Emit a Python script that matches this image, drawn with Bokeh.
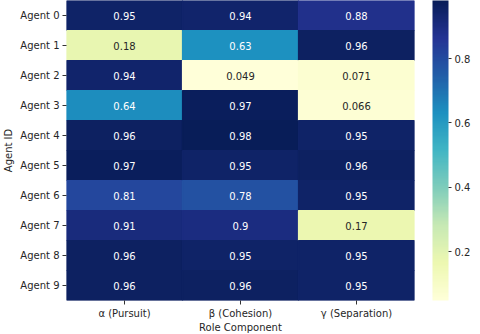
import numpy as np
from bokeh.plotting import figure
from bokeh.models import ColumnDataSource, LinearColorMapper, ColorBar, FixedTicker
from bokeh.transform import transform
from bokeh.embed import file_html
from bokeh.resources import INLINE

agents = ["Agent 0", "Agent 1", "Agent 2", "Agent 3", "Agent 4",
          "Agent 5", "Agent 6", "Agent 7", "Agent 8", "Agent 9"]
components = ["α (Pursuit)", "β (Cohesion)", "γ (Separation)"]
alpha_vals = [0.95, 0.18, 0.94, 0.64, 0.96, 0.97, 0.81, 0.91, 0.96, 0.96]
beta_vals = [0.94, 0.63, 0.049, 0.97, 0.98, 0.95, 0.78, 0.90, 0.95, 0.96]
gamma_vals = [0.88, 0.96, 0.071, 0.066, 0.95, 0.96, 0.95, 0.17, 0.95, 0.95]
cbar_ticks = [0.2, 0.4, 0.6, 0.8]

# YlGnBu anchors -> 256 palette
anchors = ['#ffffd9', '#edf8b1', '#c7e9b4', '#7fcdbb', '#41b6c4',
           '#1d91c0', '#225ea8', '#253494', '#081d58']
rgb = np.array([[int(h[i:i + 2], 16) for i in (1, 3, 5)] for h in anchors], float)
pos = np.linspace(0, 1, len(anchors))
t = np.linspace(0, 1, 256)
palette = ['#%02x%02x%02x' % tuple(int(round(np.interp(tt, pos, rgb[:, k]))) for k in range(3)) for tt in t]

cols, rows, vals = [], [], []
for series, comp in zip([alpha_vals, beta_vals, gamma_vals], components):
    for a, v in zip(agents, series):
        cols.append(comp)
        rows.append(a)
        vals.append(v)

labels = [f"{v:.2g}" for v in vals]
txt_colors = ["white" if v > 0.45 else "#262626" for v in vals]
src = ColumnDataSource(dict(col=cols, row=rows, val=vals, label=labels, tc=txt_colors))

vmin, vmax = min(vals), max(vals)
mapper = LinearColorMapper(palette=palette, low=vmin, high=vmax)

p = figure(frame_width=348, frame_height=300, x_range=components, y_range=list(reversed(agents)),
           output_backend="svg", toolbar_location=None,
           min_border_top=0, min_border_bottom=0, min_border_right=58, min_border_left=0)
p.rect(x="col", y="row", width=1, height=1, source=src,
       fill_color=transform("val", mapper), line_color=transform("val", mapper),
       line_width=1.2)
p.text(x="col", y="row", text="label", source=src, text_color="tc",
       text_align="center", text_baseline="middle", text_font_size="10px",
       text_font={"value": "DejaVu Sans"})

p.outline_line_color = None
p.grid.grid_line_color = None
for ax in (p.xaxis[0], p.yaxis[0]):
    ax.axis_line_color = None
    ax.major_tick_in = 0
    ax.major_tick_out = 4
    ax.major_tick_line_color = "#333333"
    ax.major_label_text_font = "DejaVu Sans"
    ax.major_label_text_font_size = "10px"
    ax.major_label_text_color = "#262626"
    ax.axis_label_text_font = "DejaVu Sans"
    ax.axis_label_text_font_size = "10px"
    ax.axis_label_text_font_style = "normal"
    ax.axis_label_text_color = "#262626"
p.xaxis.axis_label = "Role Component"
p.yaxis.axis_label = "Agent ID"
p.xaxis.axis_label_standoff = 0
p.yaxis.axis_label_standoff = 3
p.xaxis.major_label_standoff = 3
p.yaxis.major_label_standoff = 3

cb = ColorBar(color_mapper=mapper, ticker=FixedTicker(ticks=cbar_ticks),
              width=16, padding=0, margin=0, location=(18, 0),
              major_tick_in=0, major_tick_out=3, major_tick_line_color="#333333",
              major_label_text_font="DejaVu Sans", major_label_text_font_size="10px",
              major_label_text_color="#262626", label_standoff=3,
              bar_line_color=None, border_line_color=None)
p.add_layout(cb, "right")

open("out.html", "w").write(file_html(p, INLINE))
